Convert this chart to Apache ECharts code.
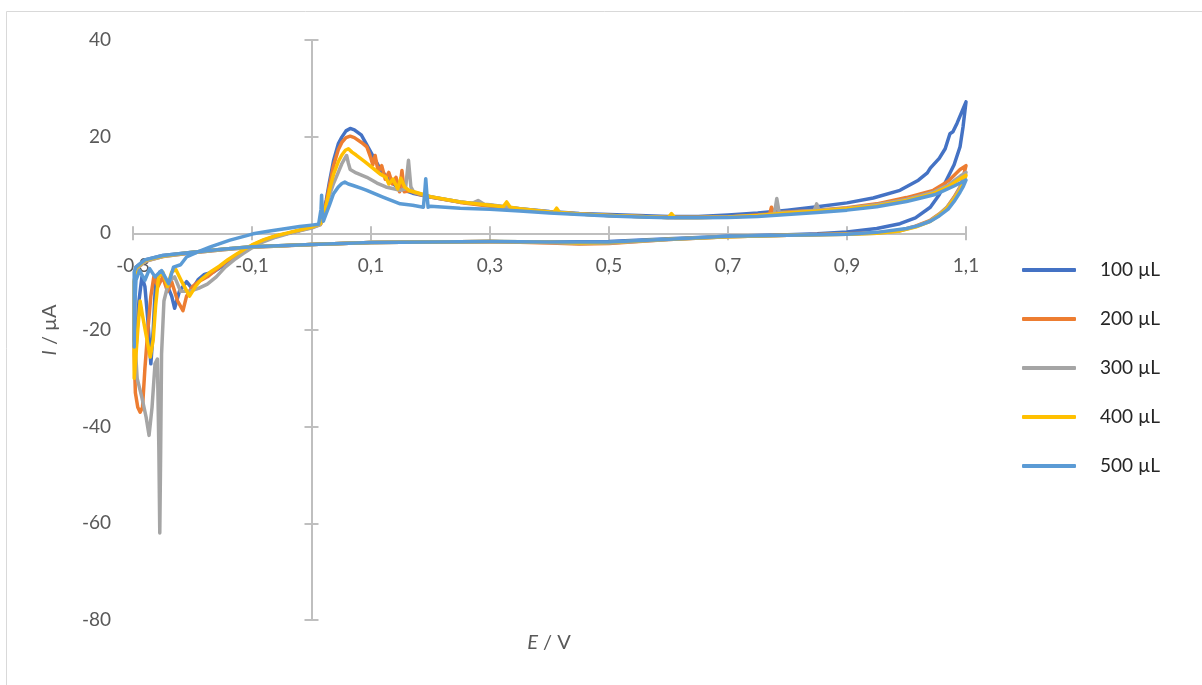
<!DOCTYPE html>
<html>
<head>
<meta charset="utf-8">
<script src="https://cdn.jsdelivr.net/npm/echarts@6/dist/echarts.min.js"></script>
<style>
html,body{margin:0;padding:0;background:#fff;}
#chart{width:1202px;height:685px;}
</style>
</head>
<body>
<div id="chart"></div>
<script>
// ---- data: [E (V), I (µA)] pairs, loop order ----
const seriesNames = ['100 µL', '200 µL', '300 µL', '400 µL', '500 µL'];
const seriesColors = ['#4472C4', '#ED7D31', '#A5A5A5', '#FFC000', '#5B9BD5'];
const xTickValues = [-0.3, -0.1, 0.1, 0.3, 0.5, 0.7, 0.9, 1.1];
const yTickValues = [-80, -60, -40, -20, 0, 20, 40];

const s100 = [[1.1,27.2],[1.095,22],[1.09,17.9],[1.08,14.2],[1.067,11],[1.055,8],[1.04,5.4],[1.015,3.2],[0.989,2.0],[0.95,1.0],[0.9,0.3],[0.85,-0.1],[0.8,-0.3],[0.7,-0.6],[0.6,-1.1],[0.5,-1.7],[0.4,-1.8],[0.3,-1.7],[0.2,-1.8],[0.1,-1.9],[0.0,-2.3],[-0.1,-2.8],[-0.15,-3.3],[-0.2,-3.9],[-0.25,-4.6],[-0.28,-5.5],[-0.295,-7],
[-0.297,-8],[-0.298,-22],[-0.295,-24],[-0.29,-14],[-0.285,-9],[-0.28,-11],[-0.275,-18],[-0.27,-27],[-0.266,-20],[-0.262,-10],[-0.255,-8],[-0.245,-10],[-0.235,-13],[-0.23,-15.5],[-0.222,-12],[-0.21,-10],[-0.2,-11.5],[-0.19,-9.5],[-0.18,-8.5],[-0.165,-8],[-0.15,-6.8],[-0.135,-5.2],[-0.12,-4],[-0.1,-2.6],[-0.08,-1.5],[-0.06,-0.6],[-0.04,0],[-0.02,0.6],[0,1.3],[0.015,2.0],
[0.018,3],[0.025,7],[0.03,10.5],[0.037,15],[0.045,18.5],[0.051,19.9],[0.058,21.2],[0.065,21.7],[0.072,21.4],[0.084,20.3],[0.092,18.5],[0.101,16.5],[0.108,15],[0.115,13.4],[0.124,12],[0.132,11],[0.14,10],[0.149,9.2],[0.17,8.3],[0.2,7.5],[0.25,6.5],[0.3,5.8],[0.35,5.1],[0.4,4.5],[0.45,4.1],[0.5,3.9],[0.55,3.7],[0.6,3.5],[0.65,3.5],[0.7,3.8],[0.75,4.2],[0.8,4.8],[0.85,5.5],[0.9,6.3],[0.944,7.3],[0.989,8.9],[1.02,11],[1.035,12.5],[1.04,13.5],[1.055,15.5],[1.065,17.5],[1.073,20.6],[1.078,21],[1.085,22.8],[1.1,27.2]];

const s200 = [[1.1,14],[1.095,11.5],[1.09,9.6],[1.08,7.5],[1.068,5.4],[1.055,4],[1.04,2.7],[1.015,1.5],[0.989,0.6],[0.95,0.1],[0.9,-0.1],[0.8,-0.4],[0.7,-0.7],[0.6,-1.3],[0.5,-2.1],[0.45,-2.2],[0.4,-2.0],[0.3,-1.7],[0.2,-1.8],[0.1,-1.9],[0,-2.3],[-0.1,-2.9],[-0.15,-3.4],[-0.2,-4.0],[-0.25,-4.8],[-0.28,-5.8],[-0.295,-7.5],
[-0.297,-9],[-0.298,-25],[-0.296,-33],[-0.292,-36],[-0.288,-37],[-0.284,-36],[-0.28,-28],[-0.275,-20],[-0.27,-13],[-0.265,-9],[-0.258,-11],[-0.25,-9],[-0.242,-12],[-0.235,-10],[-0.225,-14],[-0.216,-16],[-0.21,-13],[-0.2,-11],[-0.19,-10],[-0.175,-9],[-0.16,-7.5],[-0.145,-6],[-0.13,-4.8],[-0.115,-3.6],[-0.1,-2.5],[-0.08,-1.4],[-0.06,-0.6],[-0.04,0],[-0.02,0.6],[0,1.2],[0.015,1.8],
[0.018,2.8],[0.025,6.5],[0.03,9.8],[0.037,14],[0.045,17.3],[0.051,18.8],[0.058,19.8],[0.065,20.1],[0.072,19.8],[0.084,18.8],[0.093,17.9],[0.1,15.5],[0.103,14.2],[0.107,16.1],[0.112,12.8],[0.118,14],[0.124,11.2],[0.13,12.6],[0.136,10.2],[0.142,11.6],[0.148,8.6],[0.152,13],[0.156,8.6],[0.165,8.8],[0.18,8.1],[0.2,7.5],[0.25,6.4],[0.3,5.6],[0.35,5.0],[0.4,4.4],[0.45,4.0],[0.5,3.7],[0.55,3.5],[0.6,3.3],[0.65,3.3],[0.7,3.4],[0.75,3.8],[0.77,4.0],[0.773,5.4],[0.777,4.2],[0.8,4.4],[0.85,4.8],[0.9,5.3],[0.95,6.1],[1.0,7.4],[1.045,8.9],[1.07,10.8],[1.09,13.2],[1.1,14]];

const s300 = [[1.1,12.6],[1.095,10.8],[1.09,9.4],[1.08,7.3],[1.068,5.4],[1.055,3.9],[1.04,2.6],[1.015,1.4],[0.989,0.5],[0.95,0],[0.9,-0.2],[0.8,-0.4],[0.7,-0.7],[0.6,-1.3],[0.5,-2.0],[0.45,-2.1],[0.4,-1.9],[0.3,-1.7],[0.2,-1.8],[0.1,-1.9],[0,-2.3],[-0.1,-2.9],[-0.15,-3.4],[-0.2,-4.0],[-0.25,-4.8],[-0.28,-5.8],[-0.295,-7.5],
[-0.298,-10],[-0.297,-22],[-0.293,-30],[-0.285,-34],[-0.278,-38],[-0.273,-41.8],[-0.268,-36],[-0.263,-27],[-0.259,-26],[-0.2565,-45],[-0.255,-62],[-0.2535,-45],[-0.252,-25],[-0.248,-14],[-0.24,-10],[-0.23,-9],[-0.22,-12],[-0.205,-12],[-0.19,-11.4],[-0.175,-10.5],[-0.16,-9],[-0.145,-7],[-0.13,-5.5],[-0.115,-4.2],[-0.1,-3],[-0.08,-1.7],[-0.06,-0.8],[-0.04,-0.1],[-0.02,0.5],[0,1.1],[0.015,1.8],
[0.018,2.6],[0.025,5.5],[0.03,7.8],[0.037,10.3],[0.045,12.6],[0.051,14.4],[0.056,15.5],[0.059,16.1],[0.062,14.5],[0.065,13.2],[0.075,12.5],[0.093,11.6],[0.11,10.4],[0.125,9.6],[0.149,8.9],[0.158,9.2],[0.163,15.1],[0.167,9.6],[0.172,8.5],[0.185,8.1],[0.2,7.6],[0.25,6.5],[0.27,6.2],[0.28,6.8],[0.29,6.0],[0.3,5.9],[0.35,5.1],[0.4,4.4],[0.45,4.0],[0.5,3.7],[0.55,3.5],[0.6,3.3],[0.65,3.3],[0.7,3.4],[0.75,3.7],[0.778,4.0],[0.782,7.2],[0.786,4.3],[0.8,4.3],[0.845,4.7],[0.849,6.1],[0.853,4.8],[0.9,5.2],[0.95,5.9],[1.0,7.0],[1.045,8.5],[1.07,10],[1.09,11.8],[1.1,12.6]];

const s400 = [[1.1,12],[1.095,10.3],[1.09,9],[1.08,7.1],[1.068,5.2],[1.055,3.8],[1.04,2.5],[1.015,1.3],[0.989,0.5],[0.95,0],[0.9,-0.2],[0.8,-0.4],[0.7,-0.7],[0.6,-1.2],[0.5,-1.9],[0.45,-2.0],[0.4,-1.8],[0.3,-1.7],[0.2,-1.8],[0.1,-1.9],[0,-2.3],[-0.1,-2.8],[-0.15,-3.3],[-0.2,-3.9],[-0.25,-4.7],[-0.28,-5.6],[-0.295,-7.2],
[-0.298,-10],[-0.298,-30],[-0.296,-27],[-0.292,-20],[-0.288,-14],[-0.284,-17],[-0.278,-21],[-0.271,-25.6],[-0.266,-22],[-0.262,-15],[-0.257,-9],[-0.25,-8],[-0.242,-11],[-0.235,-8],[-0.228,-7.5],[-0.218,-10],[-0.205,-13],[-0.195,-11],[-0.185,-9.5],[-0.17,-8],[-0.155,-6.8],[-0.14,-5.4],[-0.125,-4.2],[-0.11,-3.1],[-0.1,-2.4],[-0.08,-1.3],[-0.06,-0.5],[-0.04,0.1],[-0.02,0.7],[0,1.3],[0.015,2.0],
[0.018,2.8],[0.025,6],[0.03,8.8],[0.037,12.2],[0.045,14.8],[0.051,16.2],[0.057,17.2],[0.062,17.5],[0.068,16.8],[0.075,16.2],[0.09,14.8],[0.101,13.7],[0.115,12.3],[0.125,11.6],[0.13,10.2],[0.137,11.2],[0.145,9.2],[0.15,11.4],[0.157,9.5],[0.165,8.8],[0.175,8.5],[0.2,7.6],[0.25,6.5],[0.3,5.8],[0.322,5.5],[0.328,6.5],[0.334,5.4],[0.35,5.1],[0.4,4.4],[0.407,4.3],[0.412,5.2],[0.417,4.3],[0.45,4.0],[0.5,3.7],[0.55,3.5],[0.6,3.3],[0.605,4.1],[0.61,3.3],[0.65,3.3],[0.7,3.4],[0.75,3.7],[0.8,4.2],[0.85,4.6],[0.9,5.1],[0.95,5.7],[1.0,6.8],[1.045,8.2],[1.07,9.6],[1.09,11.3],[1.1,12]];

const s500 = [[1.1,11],[1.095,9.6],[1.09,8.5],[1.08,6.6],[1.07,5],[1.055,3.6],[1.04,2.5],[1.02,1.6],[1.0,1.0],[0.95,0.2],[0.9,-0.2],[0.8,-0.4],[0.7,-0.6],[0.6,-1.2],[0.5,-1.8],[0.4,-1.8],[0.3,-1.7],[0.2,-1.8],[0.1,-1.9],[0,-2.3],[-0.1,-2.8],[-0.15,-3.3],[-0.2,-3.9],[-0.25,-4.6],[-0.28,-5.5],[-0.295,-7],
[-0.298,-8],[-0.298,-23.5],[-0.297,-15],[-0.295,-9.7],[-0.289,-7.7],[-0.28,-9.7],[-0.272,-7.3],[-0.263,-9],[-0.252,-7.7],[-0.24,-10.4],[-0.232,-7],[-0.22,-6.5],[-0.21,-4.9],[-0.19,-3.8],[-0.17,-2.8],[-0.137,-1.4],[-0.098,-0.1],[-0.07,0.5],[-0.042,1.0],[-0.02,1.4],[0,1.7],[0.012,1.9],[0.015,2.0],
[0.016,5],[0.017,7.9],[0.018,5],[0.02,2.5],[0.025,4.2],[0.03,5.8],[0.037,8.2],[0.045,9.6],[0.051,10.3],[0.056,10.6],[0.062,10.2],[0.07,9.9],[0.084,9.3],[0.093,8.9],[0.11,8.0],[0.12,7.5],[0.149,6.1],[0.17,5.8],[0.188,5.4],[0.19,8],[0.192,11.3],[0.194,8],[0.196,5.4],[0.2,5.6],[0.25,5.2],[0.3,5.0],[0.35,4.6],[0.4,4.2],[0.45,3.9],[0.5,3.6],[0.55,3.4],[0.6,3.2],[0.65,3.2],[0.7,3.3],[0.75,3.5],[0.8,3.9],[0.85,4.3],[0.9,4.8],[0.95,5.5],[1.0,6.6],[1.05,8.1],[1.08,9.8],[1.1,11]];

const seriesData = [s100, s200, s300, s400, s500];

// ---- chart ----
const FONT = 'Lato, "Noto Sans", sans-serif';
const AXIS_GRAY = '#bfbfbf';
const LABEL_GRAY = '#595959';
const fmtX = v => Number(v).toFixed(1).replace('.', ',');

const GRID = {left: 133, right: 236, top: 40, bottom: 65};
const Y_MIN = -80, Y_MAX = 40;
const gridHeight = 685 - GRID.top - GRID.bottom;
// move the labelled x-axis up from the grid bottom to the I = 0 line
const xLabelOffset = -gridHeight * (0 - Y_MIN) / (Y_MAX - Y_MIN);

const chart = echarts.init(document.getElementById('chart'), null, {renderer: 'canvas'});

const hiddenLabel = {show: false};
const lineStyleAxis = {color: AXIS_GRAY, width: 2};

const option = {
  animation: false,
  backgroundColor: '#ffffff',
  textStyle: {fontFamily: FONT},
  grid: GRID,
  legend: {
    orient: 'vertical',
    left: 1017,
    top: 255,
    itemWidth: 54,
    itemHeight: 4,
    itemGap: 29,
    icon: 'roundRect',
    data: seriesNames,
    textStyle: {fontFamily: FONT, fontSize: 19, color: '#262626', lineHeight: 20, padding: [0, 0, 0, 19]}
  },
  xAxis: [
    {
      type: 'value', min: -0.3, max: 1.1, position: 'bottom', offset: xLabelOffset,
      axisLine: {show: true, onZero: false, lineStyle: lineStyleAxis},
      axisTick: {show: true, length: 7, customValues: xTickValues, lineStyle: lineStyleAxis},
      axisLabel: {show: true, customValues: xTickValues, formatter: fmtX, margin: 23, fontSize: 19, color: LABEL_GRAY, fontFamily: FONT},
      splitLine: {show: false}
    },
    {
      type: 'value', min: -0.3, max: 1.1, position: 'top',
      axisLine: {show: true, onZero: true, onZeroAxisIndex: 0, lineStyle: lineStyleAxis},
      axisTick: {show: true, length: 7, customValues: xTickValues, lineStyle: lineStyleAxis},
      axisLabel: hiddenLabel,
      splitLine: {show: false}
    }
  ],
  yAxis: [
    {
      type: 'value', min: Y_MIN, max: Y_MAX, interval: 20, position: 'left',
      axisLine: {show: false, onZero: false},
      axisTick: {show: false},
      axisLabel: {show: true, margin: 22, fontSize: 19, color: LABEL_GRAY, fontFamily: FONT},
      splitLine: {show: false}
    },
    {
      type: 'value', min: Y_MIN, max: Y_MAX, interval: 20, position: 'left',
      axisLine: {show: true, onZero: true, onZeroAxisIndex: 0, lineStyle: lineStyleAxis},
      axisTick: {show: true, length: 7, lineStyle: lineStyleAxis},
      axisLabel: hiddenLabel,
      splitLine: {show: false}
    },
    {
      type: 'value', min: Y_MIN, max: Y_MAX, interval: 20, position: 'right',
      axisLine: {show: true, onZero: true, onZeroAxisIndex: 0, lineStyle: lineStyleAxis},
      axisTick: {show: true, length: 7, lineStyle: lineStyleAxis},
      axisLabel: hiddenLabel,
      splitLine: {show: false}
    }
  ],
  series: seriesData.map((d, i) => ({
    name: seriesNames[i],
    type: 'line',
    xAxisIndex: 0,
    yAxisIndex: 0,
    data: d,
    showSymbol: false,
    symbol: 'none',
    smooth: false,
    color: seriesColors[i],
    lineStyle: {width: 3.5, color: seriesColors[i], cap: 'round', join: 'round'},
    z: 2 + i
  })),
  graphic: [
    {
      type: 'rect', z: -10, silent: true,
      shape: {x: 6.5, y: 11.5, width: 1200, height: 700},
      style: {fill: 'none', stroke: '#d9d9d9', lineWidth: 1}
    },
    {
      type: 'text', silent: true,
      x: 549, y: 643,
      style: {
        text: '{i|E} / V',
        rich: {i: {fontStyle: 'italic', fontSize: 20, fontFamily: FONT, fill: LABEL_GRAY}},
        fontSize: 20, fontFamily: FONT, fill: LABEL_GRAY,
        align: 'center', verticalAlign: 'middle'
      }
    },
    {
      type: 'text', silent: true,
      x: 50, y: 330, rotation: Math.PI / 2,
      style: {
        text: '{i|I} / µA',
        rich: {i: {fontStyle: 'italic', fontSize: 20, fontFamily: FONT, fill: LABEL_GRAY}},
        fontSize: 20, fontFamily: FONT, fill: LABEL_GRAY,
        align: 'center', verticalAlign: 'middle'
      }
    }
  ]
};

chart.setOption(option);
</script>
</body>
</html>
